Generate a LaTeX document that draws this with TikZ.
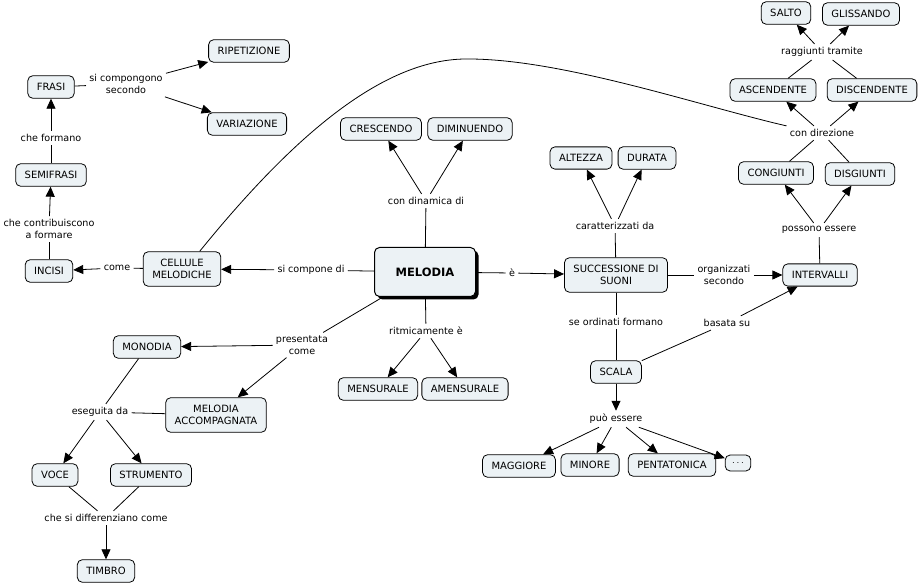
\documentclass[tikz,border=0pt]{standalone}
\usepackage{fontspec}
\setmainfont{DejaVu Sans}
\usetikzlibrary{arrows.meta,shadows}
\definecolor{cbox}{RGB}{236,242,245}
\begin{document}
\begin{tikzpicture}[x=1pt,y=-1pt,line width=0.8pt]
  \tikzset{ concept/.style={draw, rounded corners=5pt, fill=cbox, inner xsep=9pt, inner ysep=7.5pt, align=center, font=\fontsize{10}{12}\selectfont},
    main/.style={concept, line width=1pt, font=\bfseries\fontsize{11.5}{13}\selectfont, minimum width=101pt, minimum height=49pt, general shadow={fill=black, shadow xshift=3pt, shadow yshift=-3pt}},
    link/.style={inner sep=3pt, align=center, font=\fontsize{9.6}{11.5}\selectfont},
    arr/.style={-{Triangle[length=10pt,width=9pt]}} };
  \useasboundingbox (0,0) rectangle (919,585);
  % concepts
  \node[main] (melodia) at (425,272) {MELODIA};
  \node[concept] (ripet) at (249,51) {RIPETIZIONE};
  \node[concept] (variaz) at (247,124) {VARIAZIONE};
  \node[concept] (frasi) at (51,87) {FRASI};
  \node[concept] (semifr) at (51,175) {SEMIFRASI};
  \node[concept] (incisi) at (49,271) {INCISI};
  \node[concept] (cellule) at (182,269) {CELLULE\\MELODICHE};
  \node[concept] (cresc) at (381,129) {CRESCENDO};
  \node[concept] (dimin) at (470,129) {DIMINUENDO};
  \node[concept] (salto) at (786,13) {SALTO};
  \node[concept] (gliss) at (861,14) {GLISSANDO};
  \node[concept] (asc) at (773,90) {ASCENDENTE};
  \node[concept] (disc) at (872,90) {DISCENDENTE};
  \node[concept] (cong) at (776,173) {CONGIUNTI};
  \node[concept] (disg) at (860,174) {DISGIUNTI};
  \node[concept] (interv) at (820,275) {INTERVALLI};
  \node[concept] (succ) at (616,275) {SUCCESSIONE DI\\SUONI};
  \node[concept] (altezza) at (581,158) {ALTEZZA};
  \node[concept] (durata) at (647,158) {DURATA};
  \node[concept] (monodia) at (147,347) {MONODIA};
  \node[concept] (accomp) at (216,415) {MELODIA\\ACCOMPAGNATA};
  \node[concept] (voce) at (55,475) {VOCE};
  \node[concept] (strum) at (151,475) {STRUMENTO};
  \node[concept] (timbro) at (106,571) {TIMBRO};
  \node[concept] (mens) at (378,389) {MENSURALE};
  \node[concept] (amens) at (465,389) {AMENSURALE};
  \node[concept] (scala) at (616,372) {SCALA};
  \node[concept] (magg) at (519,466) {MAGGIORE};
  \node[concept] (minore) at (590,465) {MINORE};
  \node[concept] (penta) at (672,465) {PENTATONICA};
  \node[concept, inner ysep=2pt, inner xsep=7pt, minimum height=16pt] (altre) at (738,463) {$\cdots$};
  % linking phrases
  \node[link] (compongono) at (126,84) {si compongono\\secondo};
  \node[link] (formano) at (51,138) {che formano};
  \node[link] (contrib) at (49,229) {che contribuiscono\\a formare};
  \node[link] (come) at (117,268) {come};
  \node[link] (compone) at (311,270) {si compone di};
  \node[link] (dinamica) at (426,201) {con dinamica di};
  \node[link] (e) at (512,273) {è};
  \node[link] (present) at (302,345) {presentata\\come};
  \node[link] (ritmic) at (426,331) {ritmicamente è};
  \node[link] (caratt) at (615,226) {caratterizzati da};
  \node[link] (organ) at (724,275) {organizzati\\secondo};
  \node[link] (ordinati) at (616,322) {se ordinati formano};
  \node[link] (basata) at (727,323) {basata su};
  \node[link] (puo) at (616,419) {può essere};
  \node[link] (possono) at (819,230) {possono essere};
  \node[link] (direz) at (822,133) {con direzione};
  \node[link] (raggiunti) at (822,52) {raggiunti tramite};
  \node[link] (eseguita) at (100,412) {eseguita da};
  \node[link] (differ) at (106,518) {che si differenziano come};
  % connectors
  \draw (frasi) -- (compongono);
  \foreach \t in {ripet,variaz} \draw[arr] (compongono) -- (\t);
  \draw (semifr) -- (formano);
  \draw[arr] (formano) -- (frasi);
  \draw (incisi) -- (contrib);
  \draw[arr] (contrib) -- (semifr);
  \draw (cellule) -- (come);
  \draw[arr] (come) -- (incisi);
  \draw (melodia) -- (compone);
  \draw[arr] (compone) -- (cellule);
  \draw (melodia) -- (dinamica);
  \foreach \t in {cresc,dimin} \draw[arr] (dinamica) -- (\t);
  \draw (melodia) -- (e);
  \draw[arr] (e) -- (succ);
  \draw (melodia) -- (present);
  \foreach \t in {monodia,accomp} \draw[arr] (present) -- (\t);
  \draw (melodia) -- (ritmic);
  \foreach \t in {mens,amens} \draw[arr] (ritmic) -- (\t);
  \draw (succ) -- (caratt);
  \foreach \t in {altezza,durata} \draw[arr] (caratt) -- (\t);
  \draw (succ) -- (organ);
  \draw[arr] (organ) -- (interv);
  \draw (succ) -- (ordinati);
  \draw (ordinati) -- (scala);
  \draw (scala) -- (basata);
  \draw[arr] (basata) -- (interv);
  \draw[arr] (scala) -- (puo);
  \foreach \t in {magg,minore,penta,altre} \draw[arr] (puo) -- (\t);
  \draw (interv) -- (possono);
  \foreach \t in {cong,disg} \draw[arr] (possono) -- (\t);
  \foreach \s in {cong,disg} \draw (\s) -- (direz);
  \draw (cellule.45) .. controls (290,140) and (380,60) .. (465,59)
    .. controls (560,58) and (700,106) .. (direz.north west);
  \foreach \t in {asc,disc} \draw[arr] (direz) -- (\t);
  \foreach \s in {asc,disc} \draw (\s) -- (raggiunti);
  \foreach \t in {salto,gliss} \draw[arr] (raggiunti) -- (\t);
  \draw (monodia) -- (eseguita);
  \draw (accomp) -- (eseguita);
  \foreach \t in {voce,strum} \draw[arr] (eseguita) -- (\t);
  \foreach \s in {voce,strum} \draw (\s) -- (differ);
  \draw[arr] (differ) -- (timbro);
\end{tikzpicture}
\end{document}
